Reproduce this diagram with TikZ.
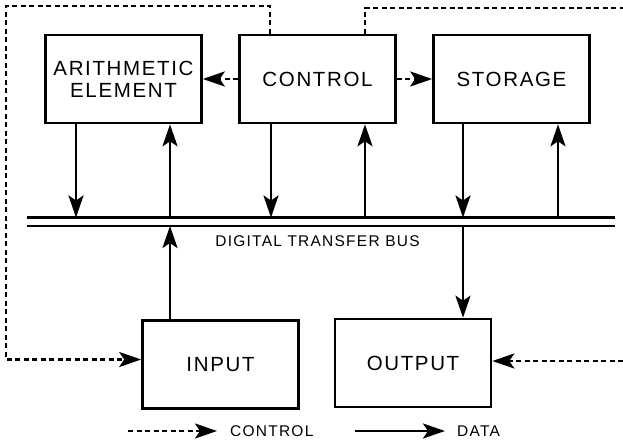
\documentclass[tikz,border=0pt]{standalone}
\usepackage{fontspec}
\setmainfont{Liberation Sans}
\newfontfamily\boxfont{Liberation Sans}[LetterSpace=8]
\newfontfamily\smallfont{Liberation Sans}[LetterSpace=8]
\usetikzlibrary{arrows.meta}

\tikzset{
  head/.tip={Stealth[length=22pt 0 0,width=15pt 0,inset=5pt 0]}
}

\begin{document}
\begin{tikzpicture}[x=1pt,y=-1pt,
  unit/.style={draw, line width=2.6pt, minimum width=156pt, minimum height=88pt,
    inner sep=0pt, align=center, font=\boxfont\fontsize{20.5}{22}\selectfont},
  data/.style={line width=2.6pt, -head},
  ctrl/.style={line width=2.6pt, dash pattern=on 5pt off 3.5pt},
  ctrlarrow/.style={ctrl, -head},
  bus/.style={line width=2.6pt},
  lbl/.style={inner sep=0pt, font=\smallfont\fontsize{15.5}{17}\selectfont}]
  \useasboundingbox (0,0) rectangle (623,441);

  % functional units
  \node[unit] (ae)  at (123.5,79) {ARITHMETIC\\ELEMENT};
  \node[unit] (ctl) at (317.5,79) {CONTROL};
  \node[unit] (sto) at (511.5,79) {STORAGE};
  \node[unit] (inp) at (220.5,364.5) {INPUT};
  \node[unit] (out) at (413,363) {OUTPUT};

  % transfer bus
  \coordinate (busA1) at (27,217.5);
  \coordinate (busA2) at (615,217.5);
  \coordinate (busB1) at (27,226);
  \coordinate (busB2) at (615,226);
  \draw[bus] (busA1) -- (busA2);
  \draw[bus] (busB1) -- (busB2);
  \node[lbl] (buslbl) at (317.5,241) {DIGITAL TRANSFER BUS};

  % taps on the bus
  \coordinate (b1) at (76,217.5);
  \coordinate (b2) at (170,217.5);
  \coordinate (b3) at (271,217.5);
  \coordinate (b4) at (365,217.5);
  \coordinate (b5) at (463,217.5);
  \coordinate (b6) at (558,217.5);
  \coordinate (lb2) at (170,226);
  \coordinate (lb5) at (463,226);

  % data paths
  \draw[data] (ae.south -| b1) -- (b1);
  \draw[data] (b2) -- (ae.south -| b2);
  \draw[data] (ctl.south -| b3) -- (b3);
  \draw[data] (b4) -- (ctl.south -| b4);
  \draw[data] (sto.south -| b5) -- (b5);
  \draw[data] (b6) -- (sto.south -| b6);
  \draw[data] (inp.north -| lb2) -- (lb2);
  \draw[data] (lb5) -- (out.north -| lb5);

  % control paths
  \draw[ctrlarrow] (ctl.west) -- (ae.east);
  \draw[ctrlarrow] (ctl.east) -- (sto.west);
  \coordinate (k1) at (270,6);
  \coordinate (k2) at (6,6);
  \draw[ctrlarrow] (ctl.north -| k1) -- (k1) -- (k2) |- ([yshift=5pt]inp.west);
  \coordinate (k3) at (365,8);
  \coordinate (k4) at (623,8);
  \draw[ctrl] (ctl.north -| k3) -- (k3) -- (k4);
  \coordinate (k5) at (623,361);
  \draw[ctrlarrow] (k5) -- (out.east |- k5);

  % legend
  \coordinate (lg1) at (128,431);
  \coordinate (lg2) at (217,431);
  \draw[ctrlarrow] (lg1) -- (lg2);
  \node[lbl, anchor=west] (lgc) at (230,431) {CONTROL};
  \coordinate (lg3) at (355,431);
  \coordinate (lg4) at (445,431);
  \draw[data] (lg3) -- (lg4);
  \node[lbl, anchor=west] (lgd) at (457,431) {DATA};
\end{tikzpicture}
\end{document}
